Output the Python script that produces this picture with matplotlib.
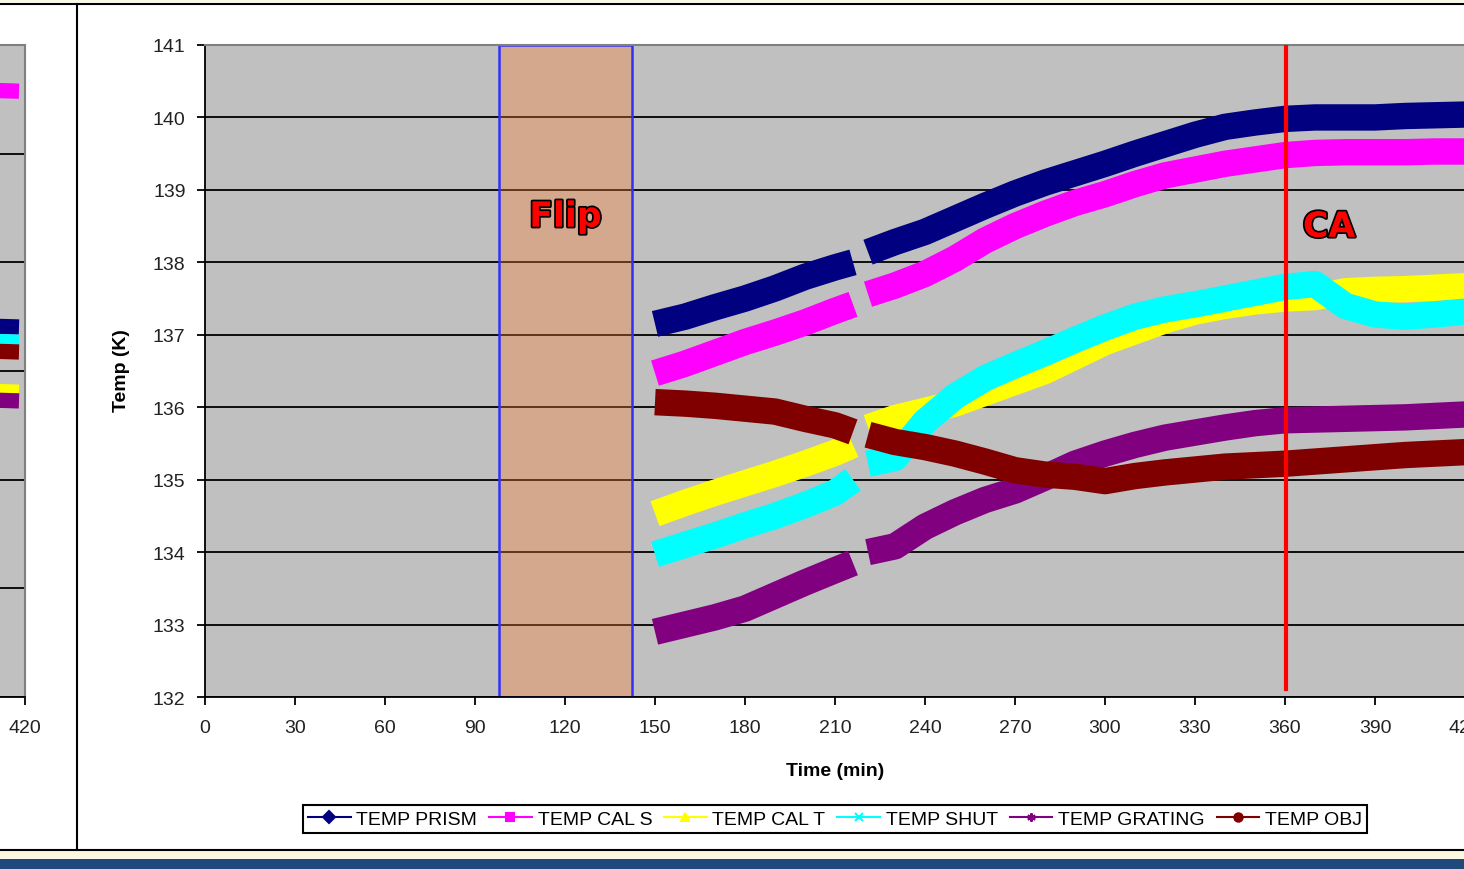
import matplotlib.pyplot as plt
import matplotlib.patheffects as pe
from matplotlib.lines import Line2D
from matplotlib.patches import Rectangle

plt.rcParams['font.family'] = ['Liberation Sans', 'DejaVu Sans']

# Sample times (min) for the two recorded stretches, split by the logging gap
minutes_1 = [150, 160, 170, 180, 190, 200, 210, 216]
minutes_2 = [221, 230, 240, 250, 260, 270, 280, 290, 300, 310, 320,
             330, 340, 350, 360, 370, 380, 390, 400, 410, 420]

# Temperatures (K)
prism_1 = [137.15, 137.25, 137.38, 137.50, 137.64, 137.80, 137.93, 138.00]
prism_2 = [138.14, 138.28, 138.42, 138.60, 138.78, 138.95, 139.10, 139.23, 139.36, 139.50, 139.63,
           139.76, 139.87, 139.93, 139.98, 140.00, 140.00, 140.00, 140.02, 140.03, 140.04]
cal_s_1 = [136.47, 136.60, 136.75, 136.90, 137.03, 137.17, 137.33, 137.42]
cal_s_2 = [137.56, 137.68, 137.84, 138.05, 138.30, 138.50, 138.67, 138.82, 138.94, 139.08, 139.20,
           139.28, 139.36, 139.42, 139.48, 139.51, 139.52, 139.52, 139.52, 139.53, 139.53]
cal_t_1 = [134.53, 134.68, 134.82, 134.95, 135.08, 135.22, 135.37, 135.48]
cal_t_2 = [135.72, 135.85, 135.95, 136.05, 136.20, 136.35, 136.50, 136.70, 136.90, 137.05, 137.20,
           137.32, 137.40, 137.46, 137.50, 137.52, 137.60, 137.62, 137.63, 137.65, 137.67]
shut_1 = [133.97, 134.10, 134.23, 134.37, 134.50, 134.65, 134.82, 135.00]
shut_2 = [135.22, 135.30, 135.80, 136.15, 136.40, 136.58, 136.75, 136.93, 137.10, 137.25, 137.35,
          137.42, 137.50, 137.58, 137.66, 137.70, 137.40, 137.28, 137.25, 137.28, 137.32]
grating_1 = [132.90, 133.00, 133.10, 133.22, 133.40, 133.58, 133.75, 133.85]
grating_2 = [134.00, 134.08, 134.35, 134.55, 134.72, 134.85, 135.03, 135.22, 135.36, 135.48, 135.58,
             135.65, 135.72, 135.78, 135.82, 135.83, 135.84, 135.85, 135.86, 135.88, 135.90]
obj_1 = [136.07, 136.05, 136.02, 135.98, 135.94, 135.84, 135.75, 135.66]
obj_2 = [135.62, 135.52, 135.45, 135.36, 135.25, 135.13, 135.07, 135.04, 134.98, 135.05, 135.10,
         135.14, 135.18, 135.20, 135.22, 135.25, 135.28, 135.31, 135.34, 135.36, 135.38]

# Tail end of the previous run (panel on the left)
prev_minutes = [405, 412, 418]
prev_prism = [136.80, 136.82, 136.81]
prev_cal_s = [141.14, 141.16, 141.15]
prev_cal_t = [135.60, 135.62, 135.61]
prev_shut = [136.52, 136.54, 136.53]
prev_grating = [135.44, 135.46, 135.45]
prev_obj = [136.34, 136.36, 136.35]

labels = ['TEMP PRISM', 'TEMP CAL S', 'TEMP CAL T', 'TEMP SHUT', 'TEMP GRATING', 'TEMP OBJ']
first = [prism_1, cal_s_1, cal_t_1, shut_1, grating_1, obj_1]
second = [prism_2, cal_s_2, cal_t_2, shut_2, grating_2, obj_2]
prev = [prev_prism, prev_cal_s, prev_cal_t, prev_shut, prev_grating, prev_obj]
colors = ['#000080', '#FF00FF', '#FFFF00', '#00FFFF', '#800080', '#800000']
markers = ['D', 's', '^', 'x', (6, 2, 0), 'o']

flip_start, flip_end = 98, 142.3
ca_time = 360.3

fig = plt.figure(figsize=(14.64, 8.70), dpi=100)

# slide frame around the charts
fig.add_artist(Rectangle((0, 1 - 3 / 870), 1, 3 / 870, transform=fig.transFigure,
                         facecolor='#FAF8E1', edgecolor='none'))
fig.add_artist(Rectangle((0, 0), 1, 10 / 870, transform=fig.transFigure,
                         facecolor='#1F497D', edgecolor='none'))
fig.add_artist(Rectangle((0, 10 / 870), 1, 8 / 870, transform=fig.transFigure,
                         facecolor='#FAF8E1', edgecolor='none'))
fig.add_artist(Line2D([0, 1], [1 - 4.5 / 870] * 2, transform=fig.transFigure, color='black', lw=1.5))
fig.add_artist(Line2D([0, 1], [1 - 850.5 / 870] * 2, transform=fig.transFigure, color='black', lw=1.5))
fig.add_artist(Line2D([77 / 1464] * 2, [1 - 5 / 870, 1 - 850 / 870], transform=fig.transFigure,
                      color='black', lw=1.5))


def style_axes(ax):
    ax.set_facecolor('#C0C0C0')
    ax.grid(axis='y', color='black', lw=1.3)
    ax.set_axisbelow(True)
    for side in ['top', 'right']:
        ax.spines[side].set_color('#808080')
        ax.spines[side].set_linewidth(1.5)
    for side in ['left', 'bottom']:
        ax.spines[side].set_color('black')
        ax.spines[side].set_linewidth(1.3)
    ax.tick_params(direction='out', length=6, width=1.3, colors='black',
                   labelcolor='#222222', labelsize=14)


# previous run panel, mostly cut off
ax0 = fig.add_axes([-0.3, 0.1977, 0.31708, 0.74943])
style_axes(ax0)
for i in range(6):
    ax0.plot(prev_minutes, prev[i], color=colors[i], lw=11, solid_capstyle='butt', zorder=3 + i)
ax0.set_xlim(265.3, 420)
ax0.set_ylim(130, 142)
ax0.set_xticks([420])
ax0.set_yticks(range(130, 143, 2))
ax0.set_yticklabels([])
ax0.tick_params(axis='y', length=0)
ax0.tick_params(axis='x', pad=10)

# main panel
ax = fig.add_axes([0.14003, 0.1977, 0.86066, 0.74943])
style_axes(ax)

ax.add_patch(Rectangle((flip_start, 132), flip_end - flip_start, 9,
                       facecolor=(252 / 255, 126 / 255, 43 / 255, 0.35),
                       edgecolor='#3030FF', lw=1.8, zorder=2))

for i in range(6):
    ax.plot(minutes_1, first[i], color=colors[i], lw=19, solid_capstyle='butt',
            solid_joinstyle='round', zorder=3 + i)
    ax.plot(minutes_2, second[i], color=colors[i], lw=19, solid_capstyle='butt',
            solid_joinstyle='round', zorder=3 + i)

ax.plot([ca_time, ca_time], [132.11, 141], color='#FF0000', lw=3, zorder=10)

outline = [pe.withStroke(linewidth=2.5, foreground='black')]
ax.text((flip_start + flip_end) / 2, 138.63, 'Flip', color='#FF0000', fontsize=25,
        fontweight='bold', family='DejaVu Sans', ha='center', va='center',
        path_effects=outline, zorder=11)
ax.text(374.7, 138.49, 'CA', color='#FF0000', fontsize=25, fontweight='bold',
        family='DejaVu Sans', ha='center', va='center', path_effects=outline, zorder=11)

ax.set_xlim(0, 420)
ax.set_ylim(132, 141)
ax.set_xticks(range(0, 421, 30))
ax.set_yticks(range(132, 142))
ax.tick_params(axis='x', pad=10)
ax.tick_params(axis='y', pad=8)

ax.set_xlabel('Time (min)', fontsize=14, fontweight='bold')
ax.xaxis.set_label_coords(0.5, -0.1)
ax.set_ylabel('Temp (K)', fontsize=14, fontweight='bold')
ax.yaxis.set_label_coords(-0.0595, 0.5015)

handles = [Line2D([], [], color=colors[i], lw=1.5, marker=markers[i], markersize=6,
                  markeredgewidth=1.5, label=labels[i]) for i in range(6)]
leg = fig.legend(handles=handles, loc='center', bbox_to_anchor=(835 / 1464, 1 - 820 / 870),
                 ncol=6, fontsize=14, frameon=True, fancybox=False, framealpha=1,
                 edgecolor='black', handlelength=2.2, handletextpad=0.3,
                 columnspacing=0.6, borderpad=0.25)
leg.get_frame().set_linewidth(1.5)

fig.savefig('out.png', dpi=100)
